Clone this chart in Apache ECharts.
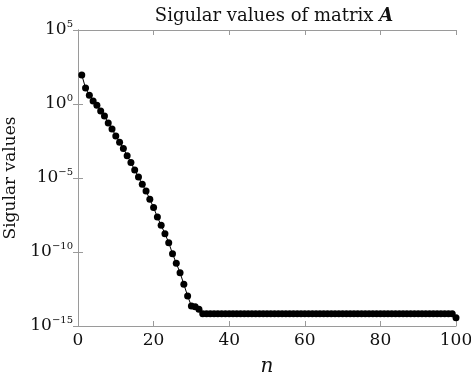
<!DOCTYPE html>
<html>
<head>
<meta charset="utf-8">
<script src="https://cdn.jsdelivr.net/npm/echarts@6/dist/echarts.min.js"></script>
<style>
  html, body { margin: 0; padding: 0; background: #fff; }
  #chart { width: 471px; height: 379px; }
</style>
</head>
<body>
<div id="chart"></div>
<script>
// Singular values of matrix A, index n = 1..100 (log10 of each value)
const exponents = [
  1.96, 1.08, 0.59, 0.20, -0.09, -0.47, -0.81, -1.28, -1.69, -2.16,
  -2.59, -3.00, -3.50, -3.96, -4.46, -4.93, -5.43, -5.88, -6.44, -7.00,
  -7.64, -8.20, -8.76, -9.37, -10.11, -10.76, -11.40, -12.18, -12.97, -13.65,
  -13.70, -13.87, -14.17
];
// Values from n = 34 to 99 sit on the numerical floor
const floorExponent = -14.17;
const lastExponent = -14.44;

const nValues = [];
const singularValues = [];
for (let n = 1; n <= 100; n++) {
  let e;
  if (n <= exponents.length) e = exponents[n - 1];
  else if (n < 100) e = floorExponent;
  else e = lastExponent;
  nValues.push(n);
  singularValues.push(Math.pow(10, e));
}

const xTicks = [0, 20, 40, 60, 80, 100];
const yTickExps = [-15, -10, -5, 0, 5];

const serif = '"DejaVu Serif", "Liberation Serif", serif';
const frameColor = '#9a9a9a';

const chart = echarts.init(document.getElementById('chart'), null, { renderer: 'canvas' });

const yLabelRich = {
  b: { fontFamily: serif, fontSize: 17, color: '#111' },
  s: { fontFamily: serif, fontSize: 10, color: '#111', verticalAlign: 'top', padding: [0, 0, 12, 0] }
};

chart.setOption({
  backgroundColor: '#fff',
  animation: false,
  title: {
    text: '{t|Sigular values of matrix }{a|A}',
    left: 269, textAlign: 'center', top: 2,
    textStyle: {
      fontWeight: 'normal',
      rich: {
        t: { fontFamily: serif, fontSize: 18, fontWeight: 'normal', color: '#111' },
        a: { fontFamily: serif, fontSize: 18, fontWeight: 'bold', fontStyle: 'italic', color: '#111' }
      }
    }
  },
  grid: { left: 78, right: 15, top: 30, bottom: 53, containLabel: false, outerBoundsMode: 'none' },
  xAxis: [
    {
      type: 'value', min: 0, max: 100, interval: 20, position: 'bottom',
      name: 'n', nameLocation: 'middle', nameGap: 31,
      nameTextStyle: { fontFamily: serif, fontSize: 20, fontStyle: 'italic', color: '#111' },
      axisLine: { show: true, lineStyle: { color: frameColor, width: 1 } },
      axisTick: { show: true, inside: true, length: 5, lineStyle: { color: frameColor } },
      axisLabel: { fontFamily: serif, fontSize: 17, color: '#111', margin: 6 },
      splitLine: { show: false }
    },
    {
      type: 'value', min: 0, max: 100, interval: 20, position: 'top',
      axisLine: { show: true, lineStyle: { color: frameColor, width: 1 } },
      axisTick: { show: true, inside: true, length: 5, lineStyle: { color: frameColor } },
      axisLabel: { show: false },
      splitLine: { show: false }
    }
  ],
  yAxis: [
    {
      type: 'log', logBase: 10, min: 1e-15, max: 1e5, interval: 5, position: 'left',
      name: 'Sigular values', nameLocation: 'middle', nameGap: 54, nameRotate: 90,
      nameTextStyle: { fontFamily: serif, fontSize: 17, color: '#111' },
      axisLine: { show: true, lineStyle: { color: frameColor, width: 1 } },
      axisTick: { show: true, inside: true, length: 5, lineStyle: { color: frameColor } },
      axisLabel: {
        margin: 5,
        formatter: function (v) {
          const e = Math.round(Math.log10(v));
          const s = e < 0 ? '\u2212' + (-e) : String(e);
          return '{b|10}{s|' + s + '}';
        },
        rich: yLabelRich
      },
      splitLine: { show: false },
      minorTick: { show: false }
    },
    {
      type: 'log', logBase: 10, min: 1e-15, max: 1e5, interval: 5, position: 'right',
      axisLine: { show: true, lineStyle: { color: frameColor, width: 1 } },
      axisTick: { show: true, inside: true, length: 5, lineStyle: { color: frameColor } },
      axisLabel: { show: false },
      splitLine: { show: false }
    }
  ],
  series: [
    {
      type: 'line',
      xAxisIndex: 0, yAxisIndex: 0,
      data: nValues.map((n, i) => [n, singularValues[i]]),
      symbol: 'circle', symbolSize: 7,
      itemStyle: { color: '#000' },
      lineStyle: { color: '#000', width: 1 },
      clip: false
    }
  ]
});
</script>
</body>
</html>
